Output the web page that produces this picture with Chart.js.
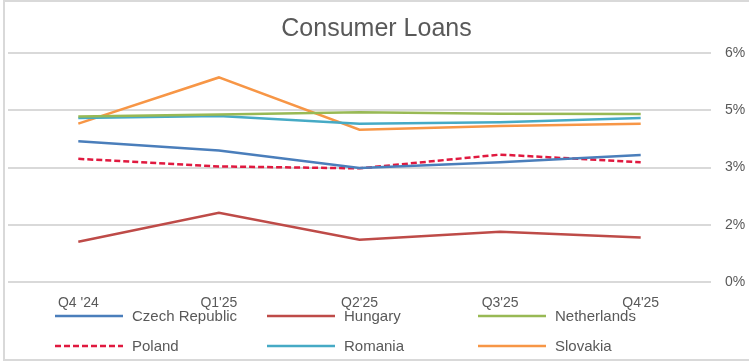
<!DOCTYPE html>
<html>
<head>
<meta charset="utf-8">
<script src="https://cdn.jsdelivr.net/npm/chart.js@4/dist/chart.umd.min.js"></script>
<style>
  html, body { margin: 0; padding: 0; background: #fff; }
  #wrap { width: 749px; height: 362px; position: relative; }
</style>
</head>
<body>
<div id="wrap"><canvas id="loans" width="749" height="362"></canvas></div>
<script>
var quarters = ["Q4 '24", "Q1'25", "Q2'25", "Q3'25", "Q4'25"];

var czech       = [3.69, 3.45, 2.99, 3.14, 3.33];
var hungary     = [1.06, 1.82, 1.11, 1.32, 1.17];
var netherlands = [4.34, 4.39, 4.45, 4.41, 4.40];
var poland      = [3.23, 3.03, 2.98, 3.34, 3.14];
var romania     = [4.30, 4.35, 4.15, 4.19, 4.30];
var slovakia    = [4.15, 5.36, 3.99, 4.09, 4.15];

var yTicks      = [0, 1.5, 3, 4.5, 6];
var yTickLabels = ["0%", "2%", "3%", "5%", "6%"];

var grey = '#595959';
var font = '"Liberation Sans", Arial, sans-serif';

function serie(label, data, color, dash){
	return {
		label: label,
		data: data,
		borderColor: color,
		backgroundColor: color,
		borderWidth: 2.5,
		borderDash: dash || [],
		pointRadius: 0,
		tension: 0,
		fill: false
	};
}

// moldura cinza + legenda em grade de 3 colunas
var frameLegend = {
	id: 'frameLegend',
	beforeDraw: function(chart){
		var ctx = chart.ctx;
		ctx.save();
		ctx.fillStyle = '#fff';
		ctx.fillRect(0, 0, chart.width, chart.height);
		ctx.strokeStyle = '#d9d9d9';
		ctx.lineWidth = 2;
		ctx.strokeRect(4, 1, chart.width + 10, chart.height - 3);
		ctx.restore();
	},
	afterDraw: function(chart, args, opts){
		var ctx = chart.ctx;
		ctx.save();
		ctx.font = '15px ' + font;
		ctx.textBaseline = 'middle';
		ctx.textAlign = 'left';
		chart.data.datasets.forEach(function(ds, i){
			var x = opts.cols[i % 3];
			var y = opts.rows[Math.floor(i / 3)];
			ctx.strokeStyle = ds.borderColor;
			ctx.lineWidth = 2.5;
			ctx.setLineDash(ds.borderDash);
			ctx.beginPath();
			ctx.moveTo(x, y);
			ctx.lineTo(x + opts.sample, y);
			ctx.stroke();
			ctx.setLineDash([]);
			ctx.fillStyle = grey;
			ctx.fillText(ds.label, x + opts.sample + 9, y + 1);
		});
		ctx.restore();
	}
};

new Chart(document.getElementById('loans').getContext('2d'), {
	type: 'line',
	data: {
		labels: quarters,
		datasets: [
			serie('Czech Republic', czech, '#4a7ebb'),
			serie('Hungary', hungary, '#be4b48'),
			serie('Netherlands', netherlands, '#98b954'),
			serie('Poland', poland, '#e0193f', [6, 3]),
			serie('Romania', romania, '#46aac5'),
			serie('Slovakia', slovakia, '#f79646')
		]
	},
	options: {
		responsive: false,
		animation: false,
		layout: { padding: { left: 8, right: 4, top: 2, bottom: 37 } },
		plugins: {
			legend: { display: false },
			tooltip: { enabled: false },
			title: {
				display: true,
				text: 'Consumer Loans',
				color: grey,
				font: { family: font, size: 25, weight: 'normal' },
				padding: { top: 12, bottom: 9 }
			},
			frameLegend: { cols: [55, 267, 478], rows: [316, 346], sample: 68 }
		},
		scales: {
			x: {
				offset: true,
				grid: { display: false, drawTicks: false },
				border: { display: false },
				ticks: { color: grey, font: { family: font, size: 14 }, padding: 13, maxRotation: 0 }
			},
			y: {
				position: 'right',
				min: 0,
				max: 6,
				afterBuildTicks: function(axis){
					axis.ticks = yTicks.map(function(v){ return { value: v }; });
				},
				afterFit: function(axis){ axis.width = 34; },
				grid: { color: '#d9d9d9', lineWidth: 2, drawTicks: false },
				border: { display: false },
				ticks: {
					color: grey,
					font: { family: font, size: 14 },
					padding: 14,
					callback: function(v, i){ return yTickLabels[i]; }
				}
			}
		}
	},
	plugins: [frameLegend]
});
</script>
</body>
</html>
